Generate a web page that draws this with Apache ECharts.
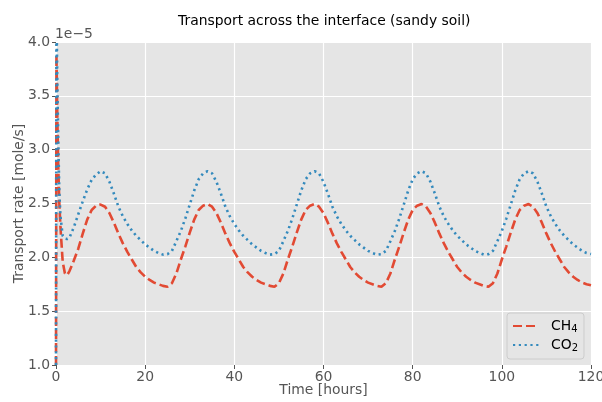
<!DOCTYPE html>
<html>
<head>
<meta charset="utf-8">
<script src="https://cdn.jsdelivr.net/npm/echarts@6/dist/echarts.min.js"></script>
<style>
html,body{margin:0;padding:0;background:#fff;}
#chart{width:602px;height:402px;}
</style>
</head>
<body>
<div id="chart"></div>
<script>
// Time axis (hours)
var timeHours = [0, 0.1, 0.3, 0.5, 0.75, 1, 1.5, 2, 2.5, 3,
  4, 5, 6, 7, 8, 9, 10, 11, 12, 13, 14, 15, 16, 17, 18, 19, 20,
  21, 22, 23, 24, 25, 26, 27, 28, 29, 30, 31, 32, 33, 34, 35, 36, 37, 38, 39, 40,
  41, 42, 43, 44, 45, 46, 47, 48, 49, 50, 51, 52, 53, 54, 55, 56, 57, 58, 59, 60,
  61, 62, 63, 64, 65, 66, 67, 68, 69, 70, 71, 72, 73, 74, 75, 76, 77, 78, 79, 80,
  81, 82, 83, 84, 85, 86, 87, 88, 89, 90, 91, 92, 93, 94, 95, 96, 97, 98, 99, 100,
  101, 102, 103, 104, 105, 106, 107, 108, 109, 110, 111, 112, 113, 114, 115, 116, 117, 118, 119, 120];

// Transport rate, in units of 1e-5 mole/s
var ch4Rate = [1.0, 3.88, 3.3, 2.85, 2.5, 2.28, 1.96, 1.85, 1.835, 1.87,
  1.97, 2.08, 2.22, 2.35, 2.44, 2.48, 2.49, 2.47, 2.41, 2.32, 2.22, 2.13, 2.05, 1.98, 1.91, 1.86, 1.82,
  1.79, 1.765, 1.75, 1.735, 1.727, 1.76, 1.85, 1.98, 2.10, 2.23, 2.35, 2.44, 2.48, 2.495, 2.47, 2.41, 2.32, 2.22, 2.13, 2.05,
  1.98, 1.91, 1.86, 1.82, 1.79, 1.765, 1.75, 1.735, 1.727, 1.76, 1.85, 1.98, 2.10, 2.23, 2.35, 2.44, 2.48, 2.495, 2.47, 2.41,
  2.32, 2.22, 2.13, 2.05, 1.98, 1.91, 1.86, 1.82, 1.79, 1.765, 1.75, 1.735, 1.727, 1.76, 1.85, 1.98, 2.10, 2.23, 2.35, 2.44,
  2.48, 2.495, 2.47, 2.41, 2.32, 2.22, 2.13, 2.05, 1.98, 1.91, 1.86, 1.82, 1.79, 1.765, 1.75, 1.735, 1.727, 1.76, 1.85, 1.98,
  2.10, 2.23, 2.35, 2.44, 2.48, 2.495, 2.47, 2.41, 2.32, 2.22, 2.13, 2.05, 1.98, 1.91, 1.86, 1.82, 1.79, 1.765, 1.75, 1.74];

var co2Rate = [1.0, 4.3, 3.6, 3.1, 2.6, 2.38, 2.2, 2.175, 2.17, 2.18,
  2.28, 2.40, 2.52, 2.63, 2.72, 2.77, 2.80, 2.78, 2.70, 2.59, 2.47, 2.38, 2.31, 2.25, 2.20, 2.16, 2.12,
  2.09, 2.06, 2.04, 2.025, 2.03, 2.06, 2.15, 2.245, 2.36, 2.49, 2.62, 2.725, 2.78, 2.80, 2.78, 2.70, 2.59, 2.47, 2.38, 2.31,
  2.25, 2.20, 2.16, 2.12, 2.09, 2.06, 2.04, 2.025, 2.03, 2.06, 2.15, 2.245, 2.36, 2.49, 2.62, 2.725, 2.78, 2.80, 2.78, 2.70,
  2.59, 2.47, 2.38, 2.31, 2.25, 2.20, 2.16, 2.12, 2.09, 2.06, 2.04, 2.025, 2.03, 2.06, 2.15, 2.245, 2.36, 2.49, 2.62, 2.725,
  2.78, 2.80, 2.78, 2.70, 2.59, 2.47, 2.38, 2.31, 2.25, 2.20, 2.16, 2.12, 2.09, 2.06, 2.04, 2.025, 2.03, 2.06, 2.15, 2.245,
  2.36, 2.49, 2.62, 2.725, 2.78, 2.80, 2.78, 2.70, 2.59, 2.47, 2.38, 2.31, 2.25, 2.20, 2.16, 2.12, 2.09, 2.06, 2.04, 2.03];

var seriesNames = ['CH4', 'CO2'];

function pairs(xs, ys) { return xs.map(function (x, i) { return [x, ys[i]]; }); }

var FONT = 'DejaVu Sans';
var FS = 13.9;
var chart = echarts.init(document.getElementById('chart'), null, {renderer: 'canvas'});
chart.setOption({
  animation: false,
  backgroundColor: '#ffffff',
  textStyle: {fontFamily: FONT},
  title: {
    text: 'Transport across the interface (sandy soil)',
    left: 173, top: 9,
    textStyle: {fontFamily: FONT, fontSize: FS, fontWeight: 'normal', color: '#000'}
  },
  graphic: [{
    type: 'text', left: 55, top: 27,
    style: {text: '1e\u22125', fontFamily: FONT, fontSize: FS, fill: '#555555'}
  }],
  grid: {left: 56, right: 11, top: 42, bottom: 37, show: true, backgroundColor: '#E5E5E5', borderWidth: 0,
    outerBoundsMode: 'none', containLabel: false},
  legend: {
    left: 507, top: 313, orient: 'vertical',
    backgroundColor: 'rgba(229,229,229,0.8)', borderColor: '#CCCCCC', borderWidth: 1, borderRadius: 3,
    padding: [6, 6, 6, 5], itemWidth: 26, itemHeight: 10, itemGap: 4,
    itemStyle: {opacity: 0},
    data: seriesNames,
    formatter: function (n) { return '{n|' + n.slice(0, 2) + '}{s|' + n.slice(2) + '}'; },
    textStyle: {
      fontFamily: FONT, color: '#000', padding: [0, 0, 0, 7],
      rich: {n: {fontFamily: FONT, fontSize: FS, color: '#000'}, s: {fontFamily: FONT, fontSize: 10, color: '#000', padding: [6, 0, 0, 0]}}
    }
  },
  xAxis: {
    type: 'value', min: 0, max: 120, interval: 20,
    name: 'Time [hours]', nameLocation: 'middle', nameGap: 18, nameMoveOverlap: false,
    nameTextStyle: {fontFamily: FONT, fontSize: FS, color: '#555555'},
    axisLine: {show: false},
    axisTick: {show: true, length: 4, lineStyle: {color: '#555555'}},
    axisLabel: {fontFamily: FONT, fontSize: FS, color: '#555555', margin: 5},
    splitLine: {show: true, lineStyle: {color: '#FFFFFF', width: 1.2}}
  },
  yAxis: {
    type: 'value', min: 1.0, max: 4.0, interval: 0.5,
    name: 'Transport rate [mole/s]', nameLocation: 'middle', nameGap: 30, nameMoveOverlap: false,
    nameTextStyle: {fontFamily: FONT, fontSize: FS, color: '#555555'},
    axisLine: {show: false},
    axisTick: {show: true, length: 4, lineStyle: {color: '#555555'}},
    axisLabel: {fontFamily: FONT, fontSize: FS, color: '#555555', margin: 6,
      formatter: function (v) { return v.toFixed(1); }},
    splitLine: {show: true, lineStyle: {color: '#FFFFFF', width: 1.2}}
  },
  series: [{
    name: seriesNames[0], type: 'line', showSymbol: false, symbol: 'none',
    data: pairs(timeHours, ch4Rate), clip: true,
    lineStyle: {color: '#E24A33', width: 2.6, type: [9, 4]},
    itemStyle: {color: '#E24A33'}
  }, {
    name: seriesNames[1], type: 'line', showSymbol: false, symbol: 'none',
    data: pairs(timeHours, co2Rate), clip: true,
    lineStyle: {color: '#348ABD', width: 2.6, type: [2.2, 3.6]},
    itemStyle: {color: '#348ABD'}
  }]
});
</script>
</body>
</html>
